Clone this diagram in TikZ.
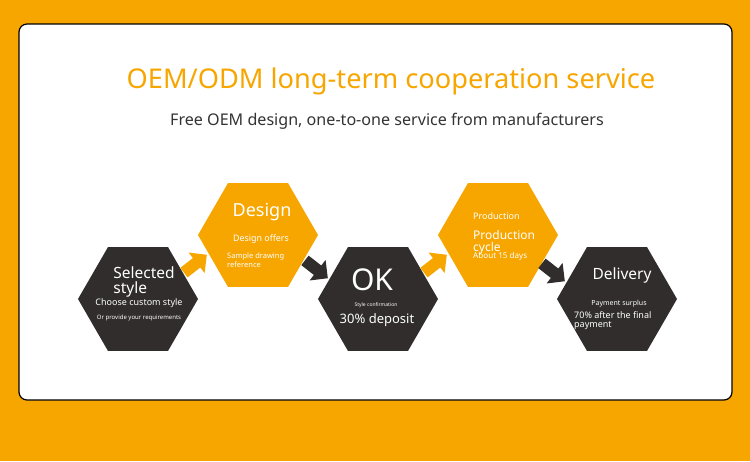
\documentclass[tikz,border=0pt]{standalone}
\usepackage{fontspec}
\setmainfont{Noto Sans}
\usetikzlibrary{shapes.geometric}
\definecolor{oemorange}{RGB}{247,166,0}
\definecolor{oemdark}{RGB}{48,45,44}
\definecolor{oemgray}{RGB}{51,51,51}
\newcommand{\blockarrow}[4]{% x, y, angle, colour
    \fill[#4, shift={(#1,#2)}, rotate=#3] (-14,-6) -- (2,-6) -- (2,-13) -- (15,0) -- (2,13) -- (2,6) -- (-14,6) -- cycle;}
\begin{document}
\begin{tikzpicture}[x=1pt, y=-1pt,
    hex/.style={regular polygon, regular polygon sides=6, minimum size=120pt, inner sep=0pt, draw=none},
    hexdark/.style={hex, fill=oemdark},
    hexorange/.style={hex, fill=oemorange},
    label/.style={text=white, inner sep=0pt, align=left},
    fs/.style={font=\fontsize{#1pt}{#1pt}\selectfont}]
    % Background
    \useasboundingbox (0,0) rectangle (750,461);
    \fill[oemorange] (0,0) rectangle (750,461);
    \draw[fill=white, line width=1.2pt, rounded corners=8pt] (19,24) rectangle (732,400);
    % Titles
    \node[text=oemorange, inner sep=0pt, fs=27.2] (title) at (391,81) {OEM/ODM long-term cooperation service};
    \node[text=oemgray, inner sep=0pt, fs=16.1] (subtitle) at (387,121) {Free OEM design, one-to-one service from manufacturers};
    % Hexagons
    \foreach \n/\x/\y/\c in {h1/138/299/hexdark, h2/258/235/hexorange, h3/378/299/hexdark, h4/498/235/hexorange, h5/617/299/hexdark}
        \node[\c] (\n) at (\x,\y) {};
    % Arrows
    \blockarrow{195}{264}{38}{oemorange}
    \blockarrow{316}{269}{-38}{oemdark}
    \blockarrow{435}{264}{38}{oemorange}
    \blockarrow{553}{272}{-38}{oemdark}
    % Selected style
    \node[label, fs=15.5, align=left] (l1a) at (144,282) {Selected\\style};
    \node[label, fs=9] (l1b) at (139,303) {Choose custom style};
    \node[label, fs=6] (l1c) at (139,318) {Or provide your requirements};
    % Design
    \node[label, fs=18] (l2a) at (262,212) {Design};
    \node[label, fs=8.9] (l2b) at (261,239) {Design offers};
    \node[label, fs=7.5, anchor=west] (l2c) at (227,260) {Sample drawing\\reference};
    % OK
    \node[label, fs=30] (l3a) at (372,280) {OK};
    \node[label, fs=5] (l3b) at (376,305) {Style confirmation};
    \node[label, fs=13] (l3c) at (377,320) {30\% deposit};
    % Production
    \node[label, fs=9, anchor=west] (l4a) at (473,216) {Production};
    \node[label, fs=12, anchor=west] (l4b) at (473,242) {Production\\cycle};
    \node[label, fs=8.1, anchor=west] (l4c) at (473,256) {About 15 days};
    % Delivery
    \node[label, fs=15.5] (l5a) at (622,275) {Delivery};
    \node[label, fs=7] (l5b) at (619,304) {Payment surplus};
    \node[label, fs=9, anchor=west] (l5c) at (574,321) {70\% after the final\\payment};
\end{tikzpicture}
\end{document}
